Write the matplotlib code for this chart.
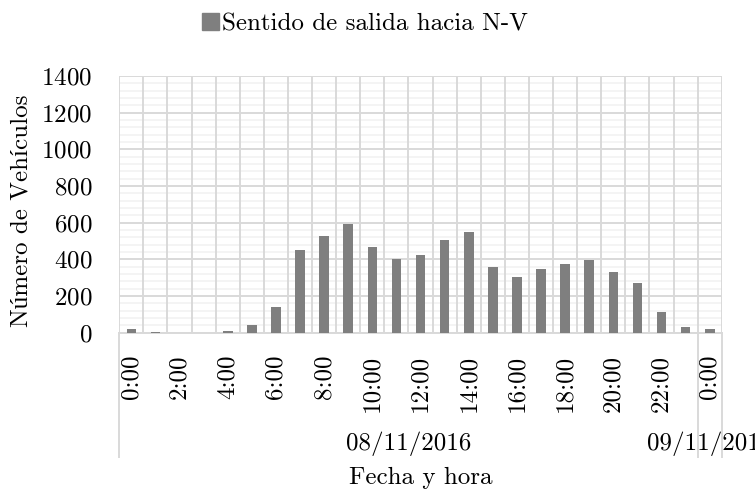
import numpy as np
import matplotlib
matplotlib.use("Agg")
import matplotlib.pyplot as plt
from matplotlib.patches import Patch
from matplotlib.ticker import MultipleLocator

# Vehicle counts per hour, leaving towards N-V
hours = ['0:00', '1:00', '2:00', '3:00', '4:00', '5:00', '6:00', '7:00', '8:00', '9:00',
         '10:00', '11:00', '12:00', '13:00', '14:00', '15:00', '16:00', '17:00', '18:00',
         '19:00', '20:00', '21:00', '22:00', '23:00', '0:00']
vehiculos = [20, 3, 1, 0, 8, 44, 138, 451, 525, 593, 465, 402, 425, 507, 547, 358,
             302, 349, 375, 396, 333, 269, 113, 33, 18]
dias = ['08/11/2016', '09/11/2016']
dia_inicio = [0, 24]   # first category index of each day
dia_fin = [23, 24]

plt.rcParams['font.family'] = ['cmr10', 'Liberation Serif']
plt.rcParams['axes.formatter.use_mathtext'] = True
fs = 18

fig = plt.figure(figsize=(7.55, 4.91), dpi=100)
ax = fig.add_axes([0.158, 0.3224, 0.798, 0.5228])

x = np.arange(len(hours))
ax.bar(x, vehiculos, width=0.4, color='#7f7f7f', zorder=3, label='Sentido de salida hacia N-V')

ax.set_xlim(-0.5, len(hours) - 0.5)
ax.set_ylim(0, 1400)
ax.yaxis.set_major_locator(MultipleLocator(200))
ax.yaxis.set_minor_locator(MultipleLocator(40))

# grid: vertical lines between categories, major + minor horizontals
for xb in np.arange(-0.5, len(hours), 1.0):
    ax.axvline(xb, color='#d9d9d9', lw=1.4, zorder=1)
ax.grid(axis='y', which='major', color='#d9d9d9', lw=1.4, zorder=1)
ax.grid(axis='y', which='minor', color='#f2f2f2', lw=1.2, zorder=0)
ax.set_axisbelow(True)

for s in ['top', 'right', 'left']:
    ax.spines[s].set_visible(False)
ax.spines['bottom'].set_color('#d9d9d9')
ax.spines['bottom'].set_linewidth(1.4)

ax.set_xticks(x[::2])
ax.set_xticklabels(hours[::2], rotation=90, fontsize=fs, va='top')
ax.tick_params(axis='x', length=0, pad=16)
ax.tick_params(axis='y', which='both', length=0, pad=19.5, labelsize=fs)

# second level of the category axis (dates)
trans = ax.get_xaxis_transform()
for xb in [-0.5, 23.5, 24.5]:
    ax.plot([xb, xb], [0, -0.484], color='#d9d9d9', lw=1.4, transform=trans, clip_on=False)
for d, a, b in zip(dias, dia_inicio, dia_fin):
    ax.text((a + b) / 2, -0.432, d, transform=trans, ha='center', va='center', fontsize=fs)

ax.text(0.5, -0.566, 'Fecha y hora', transform=ax.transAxes, ha='center', va='center', fontsize=fs)
fig.text(21 / 755, 1 - 210.5 / 491, 'Número de Vehículos', rotation=90, ha='center', va='center', fontsize=fs)

handles = [Patch(color='#7f7f7f')]
fig.legend(handles, ['Sentido de salida hacia N-V'], loc='center', bbox_to_anchor=(0.484, 0.951),
           frameon=False, fontsize=fs, handlelength=0.65, handleheight=0.65, handletextpad=0.15)

fig.savefig('out.png', dpi=100)
